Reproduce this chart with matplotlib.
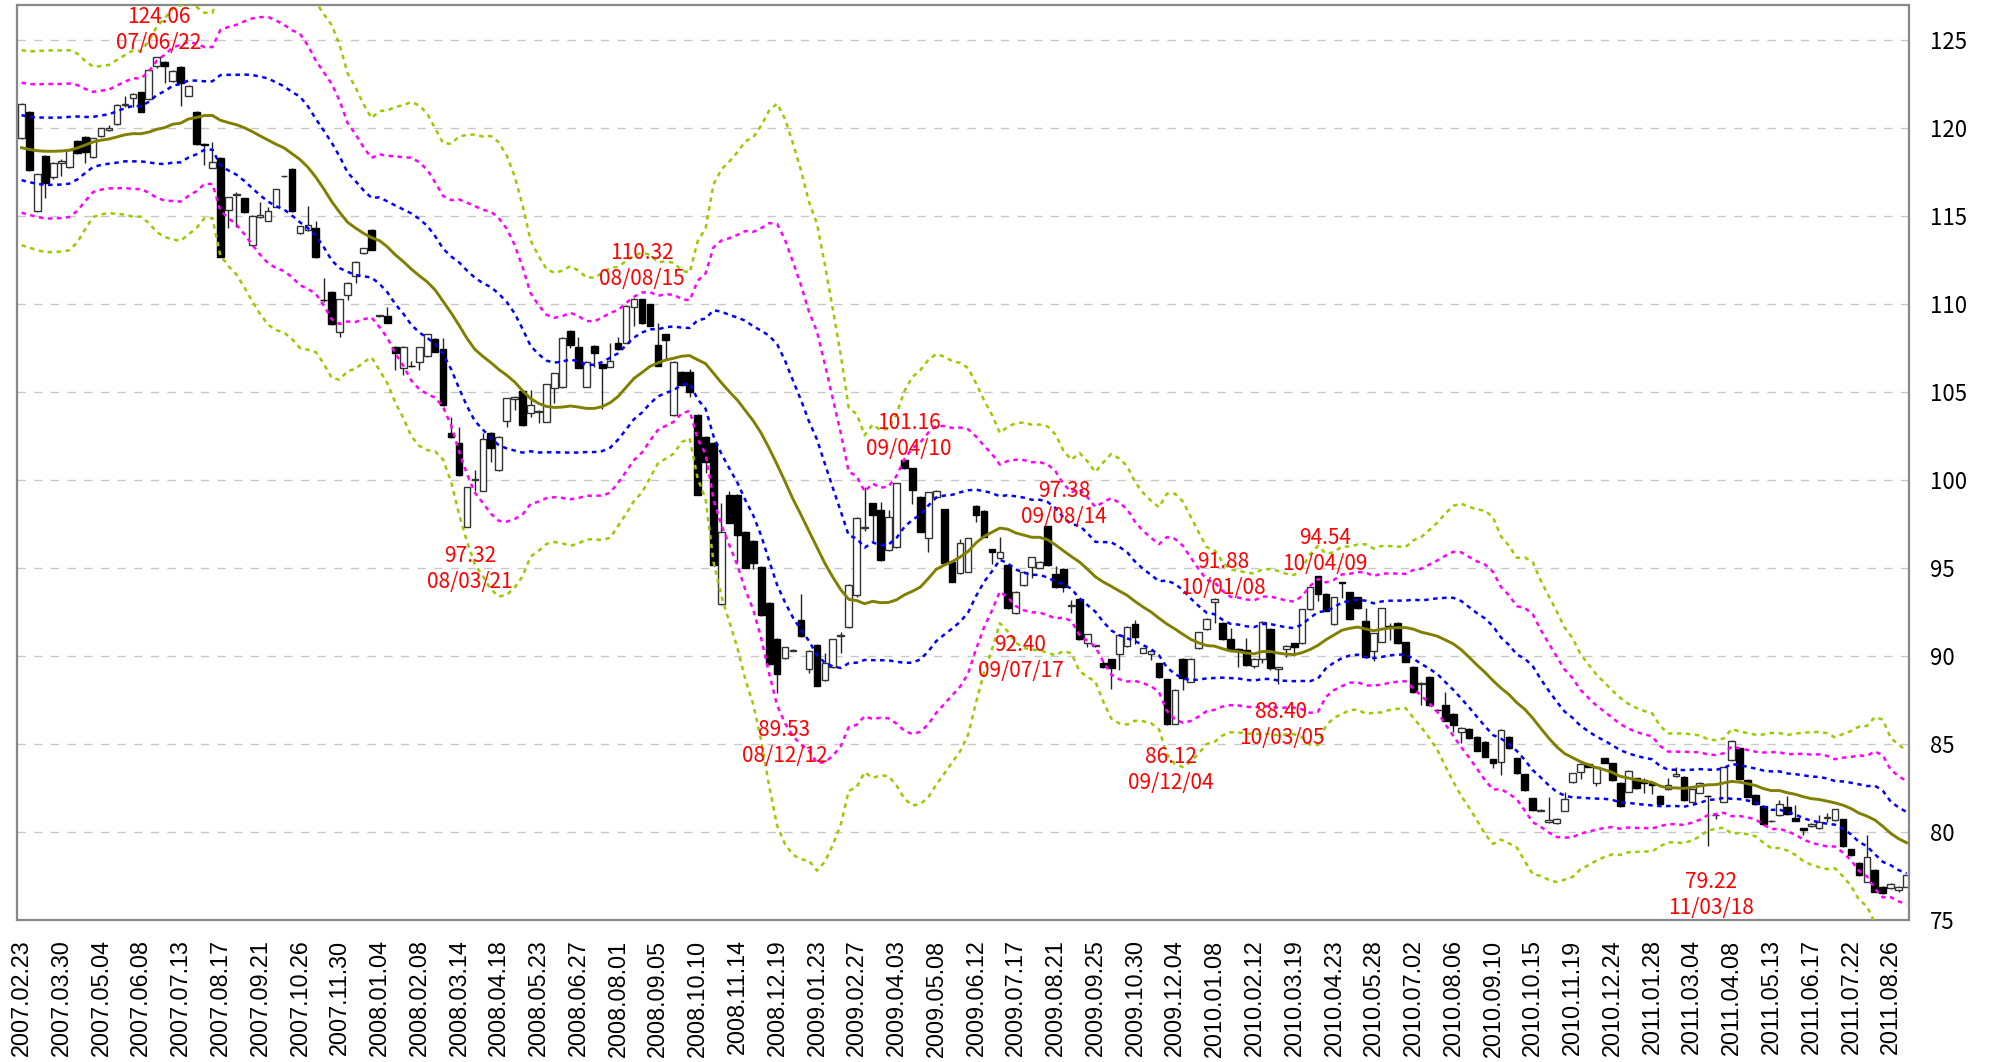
import matplotlib
matplotlib.use('Agg')
import matplotlib.pyplot as plt
import numpy as np
import pandas as pd

# ---------------- data (weekly candles, 2007.02.23 - 2011.09.09) ----------------
opens = [119.45, 120.89, 115.30, 118.41, 117.20, 118.00, 117.80, 119.28, 119.50, 118.37,
         119.55, 119.90, 120.23, 121.30, 121.69, 122.03, 121.63, 123.52, 123.73, 122.67,
         123.45, 121.82, 120.89, 119.10, 117.75, 118.31, 115.34, 116.20, 116.02, 113.35,
         114.95, 114.73, 115.53, 117.25, 117.67, 114.05, 114.20, 114.34, 110.25, 110.70,
         108.43, 110.51, 111.61, 112.88, 114.20, 109.30, 109.34, 107.58, 106.34, 106.50,
         106.72, 107.05, 108.01, 107.42, 102.69, 102.08, 97.31, 100.00, 99.39, 102.69,
         100.57, 103.37, 104.58, 105.06, 103.79, 103.88, 103.31, 105.20, 105.26, 108.46,
         107.57, 105.30, 107.61, 106.57, 106.44, 107.76, 107.80, 109.81, 110.26, 109.98,
         107.67, 108.28, 103.69, 106.15, 106.15, 103.69, 102.46, 102.12, 92.96, 99.15,
         99.15, 97.07, 96.53, 95.08, 93.03, 90.97, 89.87, 90.30, 92.05, 89.24,
         90.62, 88.64, 89.36, 91.15, 91.63, 93.47, 97.29, 98.67, 98.30, 96.02,
         96.17, 101.16, 100.66, 99.05, 96.72, 99.02, 98.33, 95.36, 94.70, 94.79,
         98.54, 98.24, 96.06, 95.55, 95.17, 92.42, 94.03, 95.04, 95.02, 97.38,
         94.64, 94.96, 92.86, 93.22, 90.76, 90.57, 89.62, 89.81, 90.11, 90.57,
         91.82, 90.19, 90.11, 89.58, 88.68, 86.14, 89.83, 88.54, 90.44, 91.52,
         93.07, 91.90, 90.97, 90.40, 90.34, 89.45, 89.81, 91.52, 89.24, 90.38,
         90.72, 90.72, 92.65, 94.54, 93.52, 91.82, 94.18, 93.62, 93.33, 92.01,
         90.30, 90.81, 91.70, 91.89, 90.78, 89.39, 88.41, 88.83, 86.95, 87.22,
         86.70, 85.66, 85.85, 85.42, 85.13, 84.13, 83.96, 85.42, 84.18, 83.28,
         81.91, 81.22, 80.55, 80.49, 81.21, 82.82, 83.43, 83.86, 82.80, 84.18,
         83.90, 82.80, 82.29, 83.05, 82.95, 82.77, 82.05, 82.44, 83.18, 83.14,
         81.72, 82.23, 82.05, 80.95, 81.72, 84.09, 84.75, 82.95, 82.10, 81.48,
         80.62, 80.97, 81.40, 80.78, 80.21, 80.34, 80.21, 80.80, 80.68, 80.72,
         79.01, 78.26, 77.18, 77.84, 76.89, 76.80, 76.70, 76.89]
highs = [121.40, 120.95, 117.40, 118.45, 118.05, 118.25, 118.80, 119.30, 119.55, 119.45,
         120.00, 120.20, 121.35, 121.80, 122.00, 122.05, 123.35, 124.06, 123.80, 123.30,
         123.50, 122.45, 120.95, 119.15, 119.20, 118.35, 116.10, 116.35, 116.05, 115.05,
         115.81, 115.49, 116.55, 117.30, 117.70, 114.45, 115.57, 114.72, 111.46, 110.75,
         110.30, 111.25, 112.45, 113.20, 114.25, 109.40, 109.85, 107.62, 107.62, 106.78,
         107.58, 108.32, 108.05, 108.05, 103.60, 103.03, 99.62, 100.57, 102.69, 102.72,
         102.50, 104.68, 104.78, 105.10, 105.10, 103.95, 105.47, 106.10, 108.10, 108.50,
         108.14, 106.76, 107.65, 106.62, 107.80, 108.14, 109.92, 110.32, 110.30, 110.02,
         108.90, 108.32, 106.76, 106.20, 106.30, 103.75, 102.50, 102.16, 98.71, 99.39,
         99.20, 97.12, 96.58, 95.12, 93.07, 91.00, 90.53, 90.38, 93.52, 90.34,
         90.66, 90.16, 90.99, 91.38, 94.07, 97.90, 99.62, 98.70, 98.75, 98.30,
         99.85, 101.16, 100.70, 99.10, 99.34, 99.41, 98.37, 95.40, 96.63, 96.73,
         98.58, 98.28, 96.10, 96.74, 95.21, 93.69, 94.83, 95.65, 95.40, 97.38,
         95.11, 95.00, 93.20, 93.26, 91.27, 90.62, 89.70, 89.85, 91.23, 91.71,
         92.04, 90.48, 90.32, 89.62, 88.72, 88.11, 89.87, 89.87, 91.38, 92.14,
         93.30, 91.95, 91.57, 90.45, 91.04, 89.90, 92.00, 91.60, 89.40, 90.63,
         90.76, 92.69, 93.94, 94.54, 93.56, 93.37, 94.22, 93.66, 93.37, 92.71,
         91.33, 92.75, 91.90, 91.93, 90.82, 89.43, 88.52, 88.87, 87.00, 87.97,
         86.74, 85.97, 85.89, 85.46, 85.17, 84.17, 85.84, 85.46, 84.22, 83.32,
         81.95, 81.30, 81.97, 80.80, 82.29, 83.37, 83.90, 83.90, 83.75, 84.22,
         83.94, 82.84, 83.52, 83.09, 83.05, 82.81, 82.09, 83.05, 83.71, 83.18,
         82.46, 82.84, 82.10, 81.10, 83.71, 85.23, 84.79, 82.99, 82.14, 81.52,
         80.68, 81.82, 82.05, 81.53, 80.25, 80.49, 80.95, 81.06, 81.33, 80.76,
         79.05, 78.30, 79.83, 77.88, 76.93, 77.09, 76.93, 77.58]
lows = [119.40, 117.55, 115.25, 116.00, 117.10, 117.30, 117.75, 118.55, 118.00, 118.30,
        119.50, 119.85, 120.20, 121.20, 121.20, 120.90, 121.60, 123.40, 122.58, 122.60,
        121.25, 121.80, 119.05, 117.90, 117.70, 112.65, 114.30, 114.40, 115.15, 113.30,
        114.90, 114.70, 115.50, 117.20, 115.25, 114.00, 114.15, 112.60, 110.10, 108.80,
        108.10, 110.20, 111.20, 112.85, 113.05, 109.25, 108.90, 106.25, 105.97, 106.40,
        106.25, 107.00, 107.25, 104.22, 102.40, 100.25, 97.31, 99.40, 99.35, 101.04,
        100.50, 103.03, 103.98, 103.08, 103.60, 103.22, 103.28, 104.35, 105.22, 107.48,
        106.35, 105.26, 106.40, 104.01, 106.40, 107.40, 107.76, 108.75, 108.86, 108.73,
        106.45, 106.82, 103.65, 105.36, 104.73, 99.12, 100.42, 95.13, 92.92, 97.53,
        95.36, 94.98, 94.92, 92.29, 89.51, 87.92, 89.83, 90.28, 91.10, 89.05,
        88.27, 88.60, 89.32, 90.15, 91.57, 93.37, 97.10, 96.40, 95.42, 95.98,
        96.13, 100.62, 98.64, 97.02, 95.93, 98.98, 95.26, 94.18, 94.66, 94.75,
        97.63, 96.74, 95.23, 95.51, 92.67, 92.40, 93.99, 94.41, 94.98, 95.13,
        93.86, 93.65, 92.43, 90.91, 90.50, 90.52, 89.32, 88.10, 89.20, 90.53,
        90.69, 90.15, 89.80, 88.75, 86.10, 86.12, 88.07, 88.50, 90.40, 91.48,
        91.88, 90.93, 90.30, 89.39, 89.45, 89.30, 89.60, 89.20, 88.40, 89.95,
        90.00, 90.68, 92.61, 93.14, 92.54, 91.78, 93.28, 92.04, 92.67, 89.88,
        89.70, 90.77, 90.90, 90.68, 89.64, 87.89, 87.22, 87.18, 86.90, 86.29,
        85.70, 85.04, 85.28, 84.58, 84.24, 83.62, 83.24, 84.71, 83.29, 82.35,
        81.21, 81.18, 80.51, 80.45, 81.17, 82.78, 82.99, 83.67, 82.61, 83.90,
        82.91, 81.44, 82.25, 82.44, 82.20, 82.16, 81.55, 82.40, 83.14, 81.78,
        81.68, 82.19, 79.22, 80.72, 81.68, 84.05, 82.95, 81.97, 81.55, 80.41,
        80.58, 80.93, 80.96, 80.60, 79.83, 80.30, 80.17, 80.59, 80.64, 79.16,
        78.65, 77.52, 77.14, 76.57, 76.48, 76.76, 76.60, 76.85]
closes = [121.34, 117.61, 117.37, 116.86, 117.99, 118.10, 118.75, 118.60, 118.65, 119.41,
          119.98, 120.00, 121.31, 121.35, 121.91, 120.93, 123.30, 124.05, 123.54, 123.24,
          122.58, 122.39, 119.07, 119.05, 118.05, 112.69, 116.06, 116.25, 115.21, 115.00,
          115.05, 115.28, 116.51, 117.27, 115.28, 114.43, 114.51, 112.65, 110.23, 108.84,
          110.28, 111.21, 112.40, 113.16, 113.07, 109.35, 108.94, 107.20, 107.58, 106.48,
          107.54, 108.28, 107.27, 104.26, 102.42, 100.28, 99.58, 100.05, 102.31, 101.80,
          102.46, 104.64, 104.73, 103.12, 104.26, 103.90, 105.43, 106.06, 108.05, 107.67,
          106.38, 106.72, 107.20, 106.38, 106.78, 107.42, 109.88, 110.30, 108.90, 108.77,
          106.48, 107.95, 106.72, 105.40, 105.02, 99.15, 101.04, 95.17, 97.07, 97.57,
          96.87, 95.02, 95.30, 92.33, 89.55, 88.96, 90.49, 90.34, 91.14, 90.30,
          88.31, 89.58, 90.95, 91.19, 94.03, 97.86, 97.31, 98.01, 95.46, 97.88,
          99.81, 100.66, 99.43, 97.06, 99.30, 99.37, 95.30, 94.22, 96.40, 96.69,
          98.01, 96.78, 95.89, 95.93, 92.71, 93.65, 94.79, 95.61, 95.36, 95.17,
          93.90, 93.94, 92.90, 90.95, 91.25, 90.60, 89.36, 89.30, 91.19, 91.67,
          91.10, 90.44, 90.28, 88.79, 86.14, 88.07, 88.73, 89.83, 91.34, 92.10,
          93.26, 90.97, 90.34, 90.30, 89.49, 89.81, 91.95, 89.30, 89.36, 90.59,
          90.49, 92.65, 93.90, 93.52, 92.58, 93.33, 94.15, 92.08, 92.71, 89.92,
          91.29, 92.71, 91.65, 90.72, 89.68, 87.93, 88.48, 87.22, 86.93, 86.33,
          86.08, 85.93, 85.32, 84.62, 84.28, 83.94, 85.80, 84.75, 83.33, 82.39,
          81.25, 81.25, 80.68, 80.76, 81.86, 83.33, 83.86, 83.71, 83.71, 83.94,
          82.95, 81.48, 83.48, 82.48, 82.77, 82.67, 81.59, 82.67, 83.30, 81.82,
          82.42, 82.80, 82.03, 80.97, 83.67, 85.19, 82.99, 82.01, 81.59, 80.45,
          80.64, 81.59, 81.00, 80.64, 80.11, 80.45, 80.59, 80.83, 81.29, 79.20,
          78.69, 77.56, 78.60, 76.61, 76.52, 77.05, 76.89, 77.54]
# closes of the 19 weeks before the first candle (needed for the 20-week band warm-up)
prior_closes = [119.6, 118.8, 117.5, 118.0, 117.8, 117.9, 116.0, 115.3, 115.9, 118.0,
                118.6, 119.0, 118.9, 120.6, 121.1, 121.4, 120.9, 121.6, 119.4]

tick_labels = ['2007.02.23', '2007.03.30', '2007.05.04', '2007.06.08', '2007.07.13', '2007.08.17',
               '2007.09.21', '2007.10.26', '2007.11.30', '2008.01.04', '2008.02.08', '2008.03.14',
               '2008.04.18', '2008.05.23', '2008.06.27', '2008.08.01', '2008.09.05', '2008.10.10',
               '2008.11.14', '2008.12.19', '2009.01.23', '2009.02.27', '2009.04.03', '2009.05.08',
               '2009.06.12', '2009.07.17', '2009.08.21', '2009.09.25', '2009.10.30', '2009.12.04',
               '2010.01.08', '2010.02.12', '2010.03.19', '2010.04.23', '2010.05.28', '2010.07.02',
               '2010.08.06', '2010.09.10', '2010.10.15', '2010.11.19', '2010.12.24', '2011.01.28',
               '2011.03.04', '2011.04.08', '2011.05.13', '2011.06.17', '2011.07.22', '2011.08.26']

ann_price = ['124.06', '110.32', '97.32', '89.53', '101.16', '97.38', '92.40',
             '91.88', '94.54', '88.40', '86.12', '79.22']
ann_date = ['07/06/22', '08/08/15', '08/03/21', '08/12/12', '09/04/10', '09/08/14', '09/07/17',
            '10/01/08', '10/04/09', '10/03/05', '09/12/04', '11/03/18']
# text anchor positions (candle index, price level of the upper line)
ann_x = [17.2, 78.0, 56.4, 95.9, 111.6, 131.1, 125.6, 151.1, 163.9, 158.4, 144.5, 212.4]
ann_y = [126.31, 112.90, 95.68, 85.80, 103.24, 99.38, 90.63, 95.34, 96.70, 86.82, 84.26, 77.16]

# ---------------- indicators (20-week SMA and sigma bands) ----------------
allc = pd.Series(prior_closes + closes)
ma = allc.rolling(20).mean().values[len(prior_closes):]
sd = allc.rolling(20).std(ddof=0).values[len(prior_closes):]

o = np.array(opens); h = np.array(highs); l = np.array(lows); c = np.array(closes)
x = np.arange(len(c))

# ---------------- figure ----------------
fig = plt.figure(figsize=(19.91, 10.62), dpi=100)
ax = fig.add_axes([17/1991, 1-920/1062, (1909-17)/1991, (920-5)/1062])

up = c >= o
# wicks
ax.vlines(x, l, h, colors='#222222', linewidth=1.0, zorder=2)
# bodies
body_bottom = np.minimum(o, c)
body_h = np.abs(c - o)
ax.bar(x[up], body_h[up], bottom=body_bottom[up], width=0.84, color='white',
       edgecolor='#333333', linewidth=1.0, zorder=2.5)
ax.bar(x[~up], body_h[~up], bottom=body_bottom[~up], width=0.84, color='black',
       edgecolor='black', linewidth=1.0, zorder=2.5)

dot = (0, (1.8, 1.8))
ax.plot(x, ma + 3*sd, color='#99cc00', lw=1.8, ls=dot, zorder=3)
ax.plot(x, ma - 3*sd, color='#99cc00', lw=1.8, ls=dot, zorder=3)
ax.plot(x, ma + 2*sd, color='#ff00ff', lw=1.8, ls=dot, zorder=3)
ax.plot(x, ma - 2*sd, color='#ff00ff', lw=1.8, ls=dot, zorder=3)
ax.plot(x, ma + 1*sd, color='#0000ff', lw=1.8, ls=dot, zorder=3)
ax.plot(x, ma - 1*sd, color='#0000ff', lw=1.8, ls=dot, zorder=3)
ax.plot(x, ma, color='#808000', lw=2.1, zorder=3.2)

# annotations
for px, py, t1, t2 in zip(ann_x, ann_y, ann_price, ann_date):
    ax.text(px, py, t1, color='#ff0000', fontsize=15, ha='center', va='center',
            family=['Noto Sans CJK JP', 'DejaVu Sans'], zorder=6)
    ax.text(px, py - 1.49, t2, color='#ff0000', fontsize=15, ha='center', va='center',
            family=['Noto Sans CJK JP', 'DejaVu Sans'], zorder=6)

ax.set_xlim(-0.57, 237.3)
ax.set_ylim(75, 126.99)

yt = np.arange(75, 126, 5)
ax.set_yticks(yt)
ax.set_yticklabels([str(v) for v in yt], family=['Noto Sans CJK JP', 'DejaVu Sans'], fontsize=16)
ax.yaxis.tick_right()
ax.tick_params(axis='y', length=0, pad=15)

ax.set_xticks(np.arange(0, 5*len(tick_labels), 5))
ax.set_xticklabels(tick_labels, rotation=90, family=['Liberation Sans', 'DejaVu Sans'], fontsize=16.8)
ax.tick_params(axis='x', length=0, pad=14)

for yv in yt[1:]:
    ax.axhline(yv, color='#c8c8c8', lw=1.0, ls=(0, (6, 6)), zorder=0.5)

for s in ax.spines.values():
    s.set_color('#888888')
    s.set_linewidth(1.6)

fig.savefig('out.png', dpi=100, facecolor='white')
